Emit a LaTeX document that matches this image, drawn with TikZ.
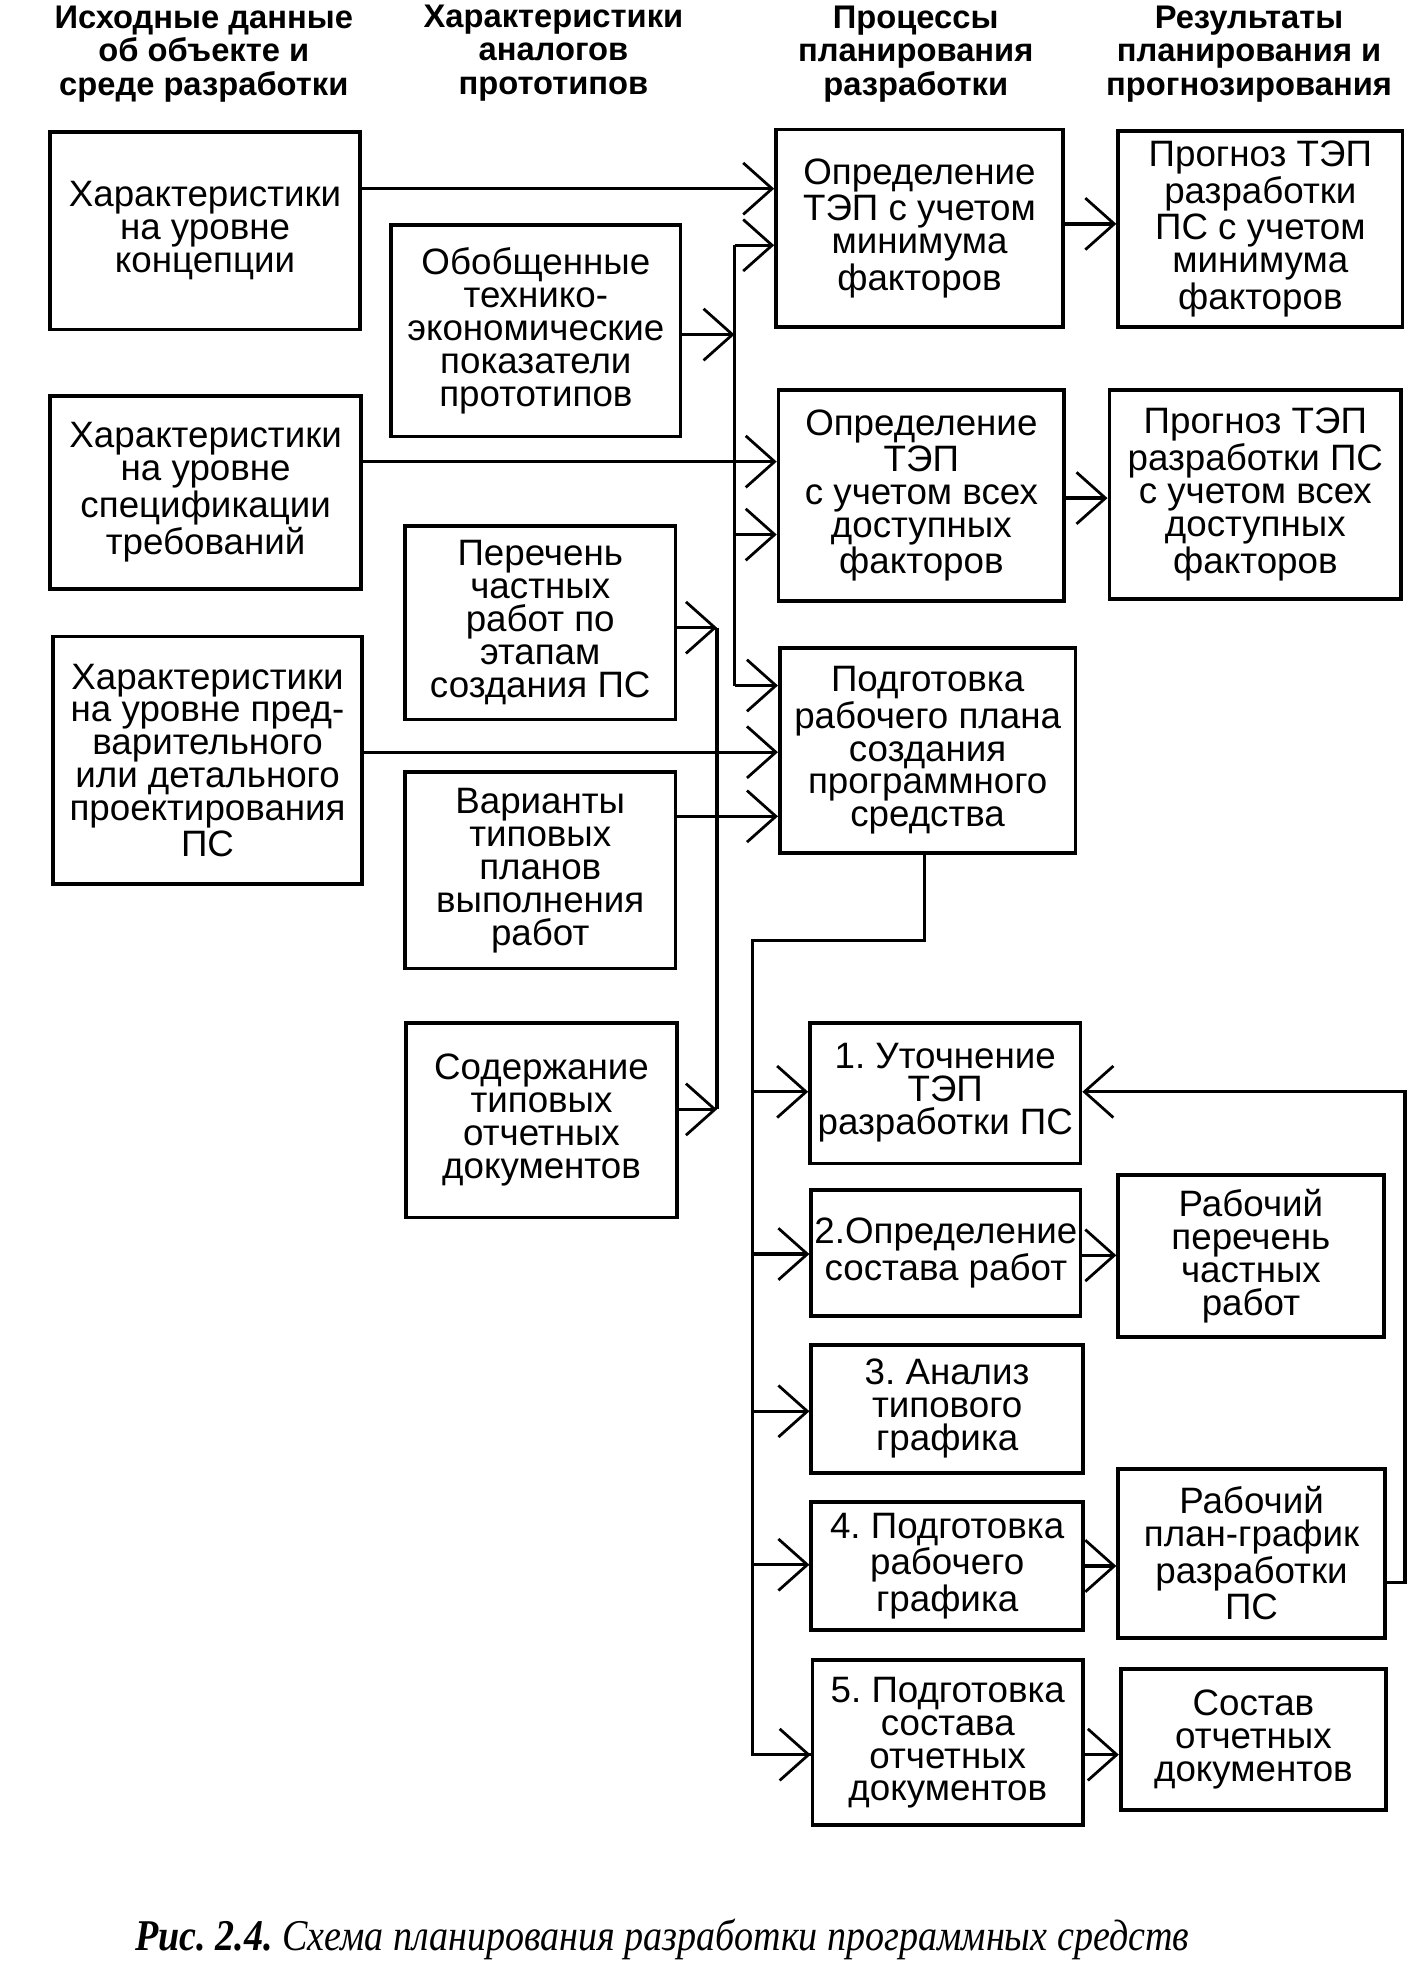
\documentclass[tikz,border=0pt]{standalone}
\usepackage{fontspec}
\usepackage{graphicx}
\setmainfont{Liberation Sans}
\newfontfamily\capfont{Liberation Serif}
\usetikzlibrary{arrows.meta}
\frenchspacing
\newcommand\bx[6]{%
  \node[box, minimum width={(#3-#2)*0.5pt}, minimum height={(#5-#4)*0.5pt}] (#1) at ({(#2+#3)/2},{(#4+#5)/2}) {#6};}
\begin{document}
\begin{tikzpicture}[x=0.5pt,y=-0.5pt,
  box/.style={draw, line width=1.5pt, rectangle, inner sep=0pt, align=center,
    font=\fontsize{14.6}{13.1}\selectfont\frenchspacing},
  hdr/.style={align=center, inner sep=0pt, font=\fontsize{13}{13.25}\selectfont\bfseries},
  conn/.style={line width=1.3pt},
  arr/.style={line width=1.3pt, -{Straight Barb[length=11.5pt,width=20.5pt,line width=1.1pt]}},
]
\useasboundingbox (0,0) rectangle (1130,1567);

% headers
\node[hdr] (h1) at (162,43) {Исходные данные\\об объекте и\\среде разработки};
\node[hdr] (h2) at (440,42) {Характеристики\\аналогов\\прототипов};
\node[hdr] (h3) at (728,43) {Процессы\\планирования\\разработки};
\node[hdr] (h4) at (993,43) {Результаты\\планирования и\\прогнозирования};

% column 1
\bx{A1}{40}{286}{105}{262}{Характеристики\\на уровне\\концепции}
\bx{A2}{40}{287}{315}{468}{Характеристики\\на уровне\\спецификации\\требований}
\bx{A3}{42}{288}{506}{703}{Характеристики\\на уровне пред-\\варительного\\или детального\\проектирования\\ПС}
% column 2
\bx{B1}{311}{541}{179}{347}{Обобщенные\\технико-\\экономические\\показатели\\прототипов}
\bx{B2}{322}{537}{418}{572}{Перечень\\частных\\работ по\\этапам\\создания ПС}
\bx{B3}{322}{537}{614}{770}{Варианты\\типовых\\планов\\выполнения\\работ}
\bx{B4}{323}{538}{813}{968}{Содержание\\типовых\\отчетных\\документов}
% column 3
\bx{C1}{617}{845}{103}{260}{Определение\\ТЭП с учетом\\минимума\\факторов}
\bx{C2}{619}{846}{310}{478}{Определение\\ТЭП\\с учетом всех\\доступных\\факторов}
\bx{C3}{620}{855}{515}{678}{Подготовка\\рабочего плана\\создания\\программного\\средства}
% column 4
\bx{D1}{889}{1115}{104}{260}{Прогноз ТЭП\\разработки\\ПС с учетом\\минимума\\факторов}
\bx{D2}{882}{1114}{310}{476}{Прогноз ТЭП\\разработки ПС\\с учетом всех\\доступных\\факторов}
% lower part
\bx{E1}{644}{859}{813}{925}{1. Уточнение\\ТЭП\\разработки ПС}
\bx{E2}{645}{859}{946}{1046}{2.Определение\\состава работ}
\bx{E3}{645}{861}{1069}{1171}{3. Анализ\\типового\\графика}
\bx{E4}{645}{861}{1194}{1296}{4. Подготовка\\рабочего\\графика}
\bx{E5}{646}{861}{1320}{1451}{5. Подготовка\\состава\\отчетных\\документов}
\bx{F1}{889}{1100}{934}{1063}{Рабочий\\перечень\\частных\\работ}
\bx{F2}{889}{1101}{1168}{1302}{Рабочий\\план-график\\разработки\\ПС}
\bx{F3}{891}{1102}{1327}{1439}{Состав\\отчетных\\документов}

% bus coordinates
\coordinate (b1t) at (584,195);
\coordinate (b1m) at (584,266);
\coordinate (b1c) at (584,425);
\coordinate (b1b) at (584,545);
\coordinate (b2t) at (570,499);
\coordinate (b2b) at (570,882);
\coordinate (c3d) at (735,748);
\coordinate (b3t) at (598,748);
\coordinate (b3b) at (598,1395);
\coordinate (fbr) at (1117,1258);
\coordinate (fbt) at (1117,868);

% connectors, upper part
\draw[arr] (A1.east |- 0,150) -- (C1.west |- 0,150);
\draw[conn] (b1t) -- (b1b);
\draw[arr] (B1.east |- b1m) -- (b1m);
\draw[arr] (b1t) -- (C1.west |- b1t);
\draw[arr] (b1c) -- (C2.west |- b1c);
\draw[arr] (b1b) -- (C3.west |- b1b);
\draw[arr] (A2.east |- 0,367) -- (C2.west |- 0,367);
\draw[conn] (b2t) -- (b2b);
\draw[arr] (B2.east |- b2t) -- (b2t);
\draw[arr] (B4.east |- b2b) -- (b2b);
\draw[arr] (A3.east |- 0,598) -- (C3.west |- 0,598);
\draw[arr] (B3.east |- 0,649) -- (C3.west |- 0,649);
\draw[arr] (C1.east |- 0,178) -- (D1.west |- 0,178);
\draw[arr] (C2.east |- 0,396) -- (D2.west |- 0,396);

% lower part
\draw[conn] (C3.south -| c3d) -- (c3d) -- (b3t) -- (b3b) -- (E5.west |- b3b);
\draw[arr] (b3t |- 0,868) -- (E1.west |- 0,868);
\draw[arr] (b3t |- 0,997) -- (E2.west |- 0,997);
\draw[arr] (b3t |- 0,1122) -- (E3.west |- 0,1122);
\draw[arr] (b3t |- 0,1244) -- (E4.west |- 0,1244);
\draw[arr] (b3b) -- (E5.west |- b3b);
\draw[arr] (E2.east |- 0,998) -- (F1.west |- 0,998);
\draw[arr] (E4.east |- 0,1245) -- (F2.west |- 0,1245);
\draw[arr] (E5.east |- 0,1395) -- (F3.west |- 0,1395);
\draw[arr] (F2.east |- fbr) -- (fbr) -- (fbt) -- (E1.east |- fbt);

% caption
\node[anchor=base west, inner sep=0pt] (cap) at (107,1551)
  {\resizebox{419pt}{12.5pt}{\capfont\itshape\bfseries Рис. 2.4.\mdseries\ Схема планирования разработки программных средств}};
\end{tikzpicture}
\end{document}
